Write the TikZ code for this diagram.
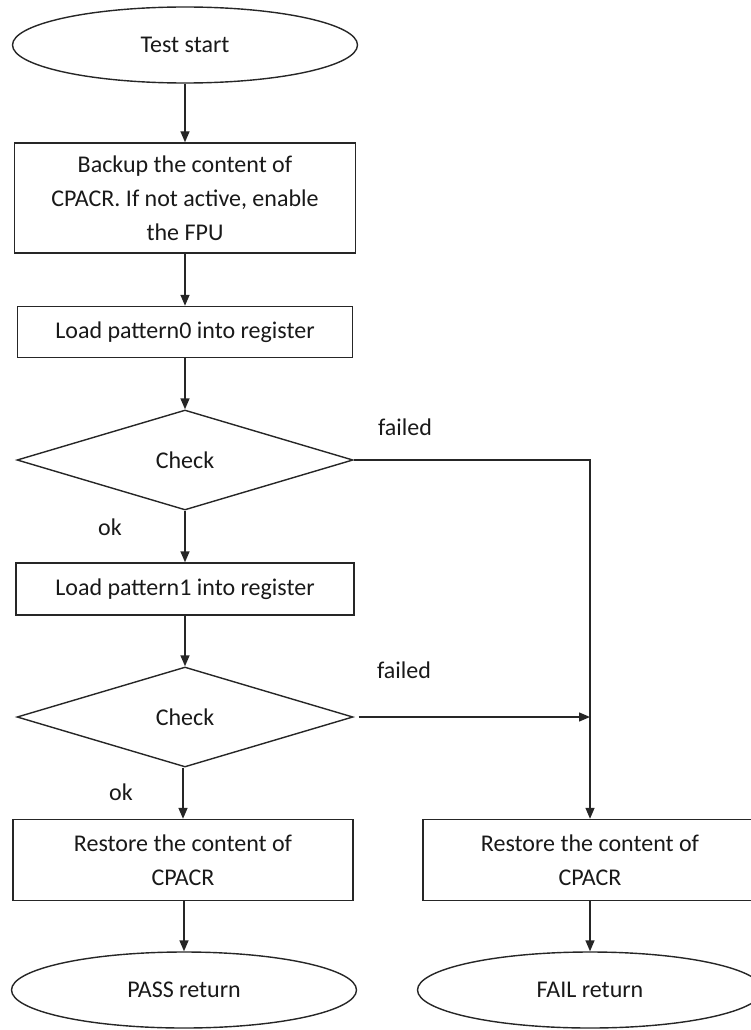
\documentclass[tikz,border=0pt]{standalone}
\usepackage{fontspec}
\setmainfont{Carlito}
\usetikzlibrary{shapes.geometric,arrows.meta}
\begin{document}
\begin{tikzpicture}[x=1pt,y=-1pt,
  every node/.style={font=\fontsize{24}{34}\selectfont, text=black!90},
  base/.style={draw=black!85, line width=1.4pt, inner sep=0pt, align=center},
  oval/.style={base, ellipse, minimum width=345pt, minimum height=76pt},
  boxnode/.style={base, rectangle, minimum width=#1, },
  dec/.style={base, diamond, minimum width=336pt, minimum height=100pt},
  conn/.style={draw=black!85, line width=1.4pt, -{Triangle[length=11pt,width=9pt]}},
  lbl/.style={inner sep=0pt}]
\useasboundingbox (0,0) rectangle (751,1030);
\node[oval] (start) at (185,45) {Test start};
\node[boxnode=341pt, minimum height=110pt] (b1) at (185,198) {Backup the content of\\CPACR. If not active, enable\\the FPU};
\node[boxnode=335pt, minimum height=51pt] (b2) at (185,332) {Load pattern0 into register};
\node[dec] (d1) at (185,460) {Check};
\node[boxnode=338pt, minimum height=52pt] (b3) at (185,589) {Load pattern1 into register};
\node[dec] (d2) at (185,717) {Check};
\node[boxnode=340pt, minimum height=81pt] (b4) at (183,860) {Restore the content of\\CPACR};
\node[oval] (pass) at (184,990) {PASS return};
\node[boxnode=334pt, minimum height=81pt] (b5) at (590,860) {Restore the content of\\CPACR};
\node[oval] (fail) at (590,990) {FAIL return};
\coordinate (j) at (b5.north |- d2.east);
\node[lbl] (f1) at (405,427) {failed};
\node[lbl] (f2) at (404,670) {failed};
\node[lbl] (ok1) at (110,527) {ok};
\node[lbl] (ok2) at (121,792) {ok};
\draw[conn] (start) -- (b1);
\draw[conn] (b1) -- (b2);
\draw[conn] (b2) -- (d1);
\draw[conn] (d1) -- (b3);
\draw[conn] (b3) -- (d2);
\draw[conn] (d2.south -| b4.north) -- (b4.north);
\draw[conn] (b4.south -| pass.north) -- (pass);
\draw[conn] (d1.east) -| (b5.north);
\draw[conn, shorten <=5pt] (d2.east) -- (j);
\draw[conn] (b5) -- (fail);
\end{tikzpicture}
\end{document}
